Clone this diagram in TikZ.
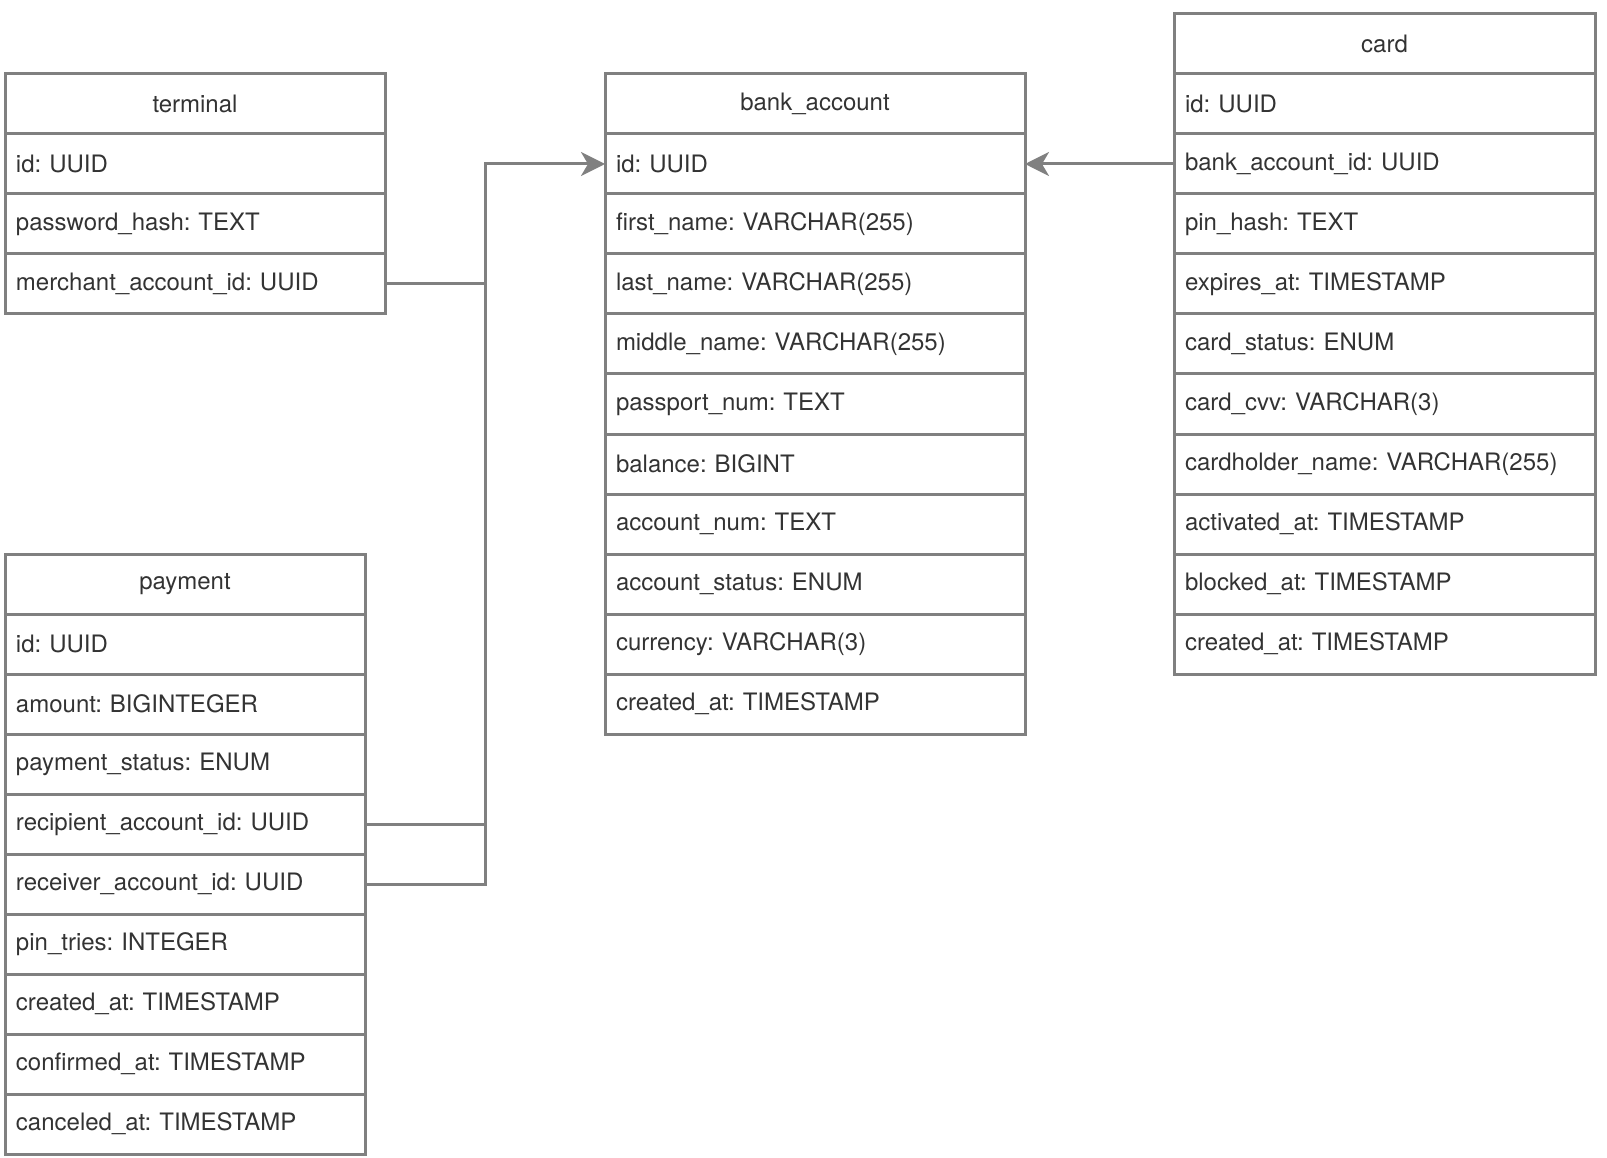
\documentclass[tikz,border=0pt]{standalone}
\usepackage{fontspec}
\setmainfont{TeX Gyre Heros}
\usetikzlibrary{positioning,arrows.meta}
\definecolor{linegray}{HTML}{808080}
\definecolor{textgray}{HTML}{333333}
\frenchspacing

\begin{document}
\begin{tikzpicture}[x=1pt, y=1pt, >={Stealth[length=24pt, width=24pt, inset=7pt]}, font=\fontsize{24}{28}\selectfont]
        \tikzstyle{cell} = [rectangle, draw=linegray, line width=3pt, text=textgray, outer sep=0pt, minimum height=60pt, inner xsep=11pt, inner ysep=0pt]
        \tikzstyle{head} = [cell, align=center, anchor=north west]
        \tikzstyle{field} = [cell, align=left]
        \tikzstyle{conn} = [draw=linegray, line width=3pt]
        \useasboundingbox (0,0) rectangle (1607,-1158);
        % terminal
        \node[head, text width=358pt] (term-0) at (5,-74) {terminal};
        \foreach \f [count=\i] in {id: UUID, password\_hash: TEXT, merchant\_account\_id: UUID} {
            \pgfmathtruncatemacro\j{\i-1}
            \node[field, text width=358pt, below=0pt of term-\j] (term-\i) {\f};
        }
        % bank_account
        \node[head, text width=398pt] (bank-0) at (605,-74) {bank\_account};
        \foreach \f [count=\i] in {id: UUID, first\_name: VARCHAR(255), last\_name: VARCHAR(255), middle\_name: VARCHAR(255), passport\_num: TEXT, balance: BIGINT, account\_num: TEXT, account\_status: ENUM, currency: VARCHAR(3), created\_at: TIMESTAMP} {
            \pgfmathtruncatemacro\j{\i-1}
            \node[field, text width=398pt, below=0pt of bank-\j] (bank-\i) {\f};
        }
        % card
        \node[head, text width=399pt] (card-0) at (1174,-14) {card};
        \foreach \f [count=\i] in {id: UUID, bank\_account\_id: UUID, pin\_hash: TEXT, expires\_at: TIMESTAMP, card\_status: ENUM, card\_cvv: VARCHAR(3), cardholder\_name: VARCHAR(255), activated\_at: TIMESTAMP, blocked\_at: TIMESTAMP, created\_at: TIMESTAMP} {
            \pgfmathtruncatemacro\j{\i-1}
            \node[field, text width=399pt, below=0pt of card-\j] (card-\i) {\f};
        }
        % payment
        \node[head, text width=338pt] (pay-0) at (5,-554) {payment};
        \foreach \f [count=\i] in {id: UUID, amount: BIGINTEGER, payment\_status: ENUM, recipient\_account\_id: UUID, receiver\_account\_id: UUID, pin\_tries: INTEGER, created\_at: TIMESTAMP, confirmed\_at: TIMESTAMP, canceled\_at: TIMESTAMP} {
            \pgfmathtruncatemacro\j{\i-1}
            \node[field, text width=338pt, below=0pt of pay-\j] (pay-\i) {\f};
        }
        % links
        \coordinate (bus) at (485,-164);
        \draw[conn, ->] (term-3.east) -| (bus) -- (bank-1.west);
        \draw[conn] (pay-4.east) -| (bus);
        \draw[conn] (pay-5.east) -| (bus);
        \draw[conn, ->] (card-2.west) -- (bank-1.east);
    \end{tikzpicture}
\end{document}
